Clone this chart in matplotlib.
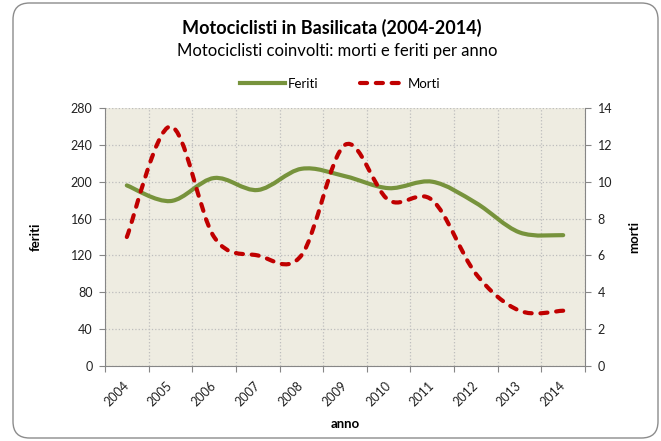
import matplotlib
matplotlib.use('Agg')
import matplotlib.pyplot as plt
import numpy as np
from matplotlib.path import Path
from matplotlib.patches import PathPatch, FancyBboxPatch
from matplotlib.lines import Line2D

# dati
anni = ['2004', '2005', '2006', '2007', '2008', '2009', '2010', '2011', '2012', '2013', '2014']
feriti = [196, 179, 204, 191, 214, 206, 193, 200, 177, 145, 142]
morti = [7, 13, 7, 6, 6, 12, 9, 9, 5, 3, 3]

plt.rcParams['font.family'] = ['Lato', 'DejaVu Sans']

VERDE = '#77933C'
ROSSO = '#C00000'
GRIGIO = '#868686'
TRATTO = (0, (1.7, 2.1))


def curva_liscia(x, y):
    # linea "smussata" come in Excel: bezier con punti di controllo catmull-rom
    x = np.asarray(x, float)
    y = np.asarray(y, float)
    px = np.concatenate([[x[0]], x, [x[-1]]])
    py = np.concatenate([[y[0]], y, [y[-1]]])
    verts = [(x[0], y[0])]
    codes = [Path.MOVETO]
    for j in range(1, len(x)):
        c1 = (px[j] + (px[j + 1] - px[j - 1]) / 6, py[j] + (py[j + 1] - py[j - 1]) / 6)
        c2 = (px[j + 1] - (px[j + 2] - px[j]) / 6, py[j + 1] - (py[j + 2] - py[j]) / 6)
        verts += [c1, c2, (px[j + 1], py[j + 1])]
        codes += [Path.CURVE4] * 3
    return Path(verts, codes)


fig = plt.figure(figsize=(6.61, 4.41), dpi=100)
W, H = 661, 441

# cornice arrotondata
bordo = FancyBboxPatch((13 / W, 3 / H), 645 / W, 435 / H,
                       boxstyle='round,pad=0,rounding_size=0.025',
                       mutation_aspect=W / H, transform=fig.transFigure,
                       fill=False, edgecolor='#8C8C8C', lw=1, zorder=5)
fig.patches.append(bordo)

ax = fig.add_axes([105 / W, 1 - 366 / H, 480 / W, 258 / H])
ax.set_facecolor('#EEECE1')
xs = np.arange(len(anni))

ax.set_xlim(-0.5, len(anni) - 0.5)
ax.set_ylim(0, 280)
ax.set_yticks(range(0, 281, 40))
ax.set_xticks(np.arange(-0.5, len(anni), 1))
ax.set_xticklabels([])
ax.set_xticks(xs, minor=True)
ax.set_xticklabels(anni, minor=True, rotation=45, ha='right', va='center',
                   rotation_mode='anchor', fontsize=9, color='#222222')
ax.tick_params(axis='x', which='minor', length=0, pad=13)
ax.tick_params(axis='x', which='major', length=4, color=GRIGIO)
ax.tick_params(axis='y', length=4, color=GRIGIO, labelsize=9, labelcolor='#222222', pad=5)
ax.grid(True, which='major', color='#BDBDBD', linestyle=':', linewidth=0.9)
ax.set_axisbelow(True)
for s in ['top', 'right']:
    ax.spines[s].set_visible(False)
for s in ['left', 'bottom']:
    ax.spines[s].set_color(GRIGIO)

ax2 = ax.twinx()
ax2.set_ylim(0, 14)
ax2.set_yticks(range(0, 15, 2))
ax2.tick_params(axis='y', length=4, color=GRIGIO, labelsize=9, labelcolor='#222222', pad=5)
for s in ['top', 'left', 'bottom']:
    ax2.spines[s].set_visible(False)
ax2.spines['right'].set_color(GRIGIO)

ax.add_patch(PathPatch(curva_liscia(xs, feriti), facecolor='none', edgecolor=VERDE,
                       lw=3, capstyle='round', joinstyle='round'))
ax2.add_patch(PathPatch(curva_liscia(xs, morti), facecolor='none', edgecolor=ROSSO,
                        lw=3, linestyle=TRATTO, capstyle='round', joinstyle='round'))

ax.set_ylabel('feriti', fontweight='bold', fontsize=9.5)
ax.yaxis.set_label_coords((42 - 105) / 480, 0.5)
ax2.set_ylabel('morti', fontweight='bold', fontsize=9.5)
ax2.yaxis.set_label_coords((628 - 105) / 480, 0.5)
ax.set_xlabel('anno', fontweight='bold', fontsize=9.5)
ax.xaxis.set_label_coords(0.5, -(418 - 366) / 258)

fig.text(332 / W, 1 - 28 / H, 'Motociclisti in Basilicata (2004-2014)',
         ha='center', va='center', fontsize=13, fontweight='bold')
fig.text(337 / W, 1 - 51 / H, 'Motociclisti coinvolti: morti e feriti per anno',
         ha='center', va='center', fontsize=12)

maniglie = [Line2D([], [], color=VERDE, lw=3),
            Line2D([], [], color=ROSSO, lw=3, linestyle=TRATTO, dash_capstyle='round')]
fig.legend(maniglie, ['Feriti', 'Morti'], loc='center', bbox_to_anchor=(340 / W, 1 - 84 / H),
           ncol=2, frameon=False, handlelength=3.4, handletextpad=0.2,
           columnspacing=3.2, fontsize=9.5)

fig.savefig('out.png', dpi=100)
